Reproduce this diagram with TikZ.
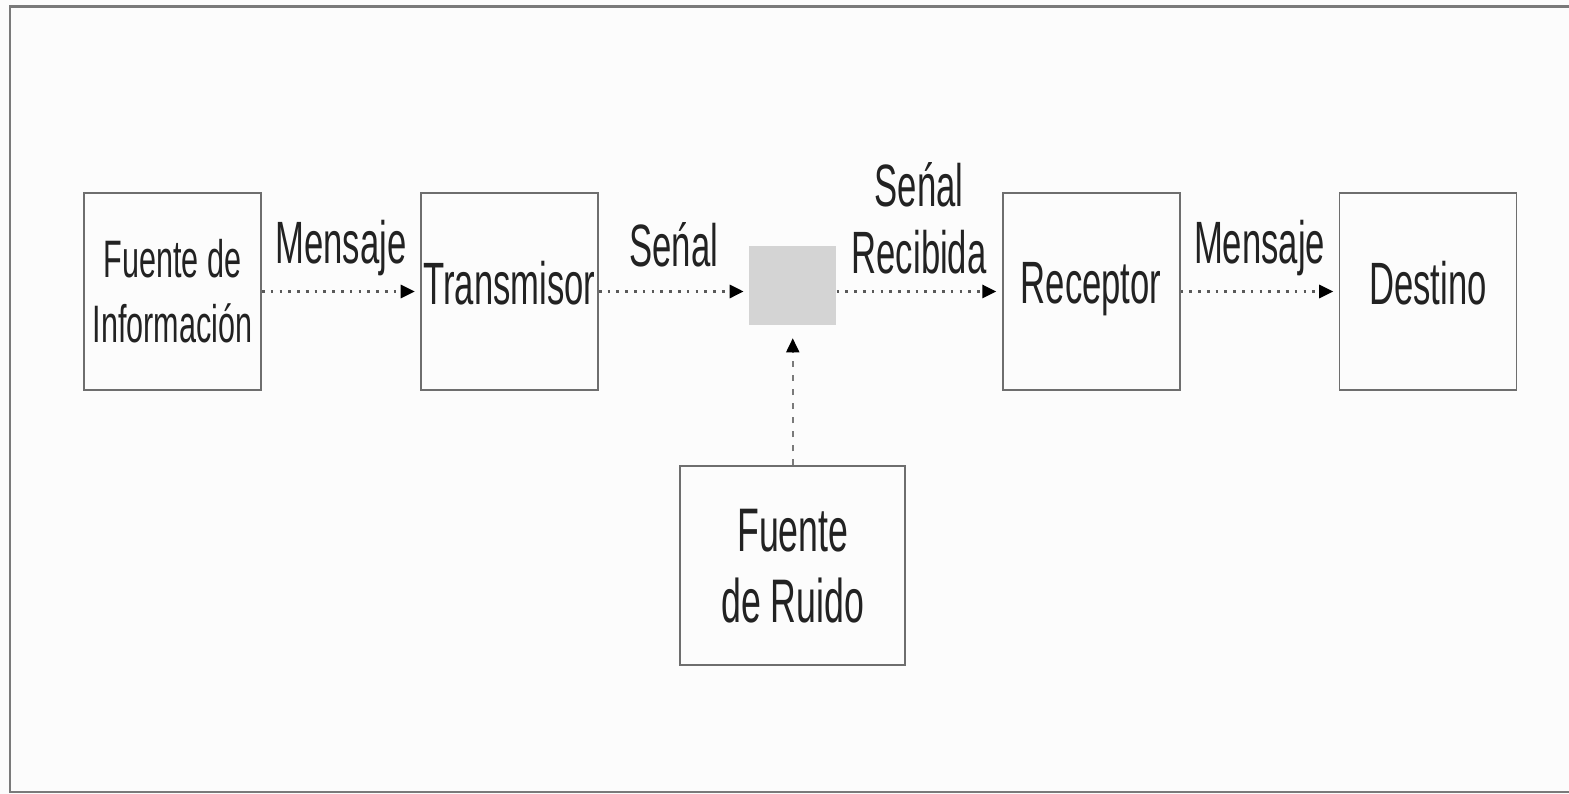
\documentclass[tikz,border=0pt]{standalone}
\usepackage{fontspec}
\setmainfont[FakeStretch=0.58]{Liberation Sans}
\usetikzlibrary{
  arrows.meta,
  positioning,
}
\definecolor{framegray}{HTML}{7A7A7A}
\definecolor{boxgray}{HTML}{6E6E6E}
\definecolor{chanfill}{HTML}{D4D4D4}
\definecolor{ink}{HTML}{222222}

\begin{document}
\begin{tikzpicture}[
    box/.style={draw=boxgray, line width=1.1pt, minimum width=3.54cm,
      minimum height=3.94cm, inner sep=0pt, align=center, text=ink,
      font=\fontsize{34}{39}\selectfont},
    onebox/.style={box, text depth=10pt},
    chan/.style={fill=chanfill, minimum width=1.74cm, minimum height=1.58cm,
      inner sep=0pt},
    lbl/.style={inner sep=0pt, align=center, text=ink,
      font=\fontsize{34}{38}\selectfont},
    tip/.style={-{Triangle[length=8pt,width=7.5pt,color=black]}},
    flow/.style={tip, draw=ink!75, line width=1.5pt, dash pattern=on 1.5pt off 3.5pt,
      shorten >=3pt},
    noise/.style={tip, draw=ink!60, line width=0.9pt, dash pattern=on 3.5pt off 4.5pt,
      shorten >=7.4pt},
  ]
    \useasboundingbox[fill=gray!2] (0,0) rectangle (31.38,15.88);
    \draw[framegray, line width=1.7pt] (31.38,15.74) -- (0.2,15.74) -- (0.2,0.04) -- (31.38,0.04);

    \node [box, font=\fontsize{30}{37}\selectfont] (FI) at (3.45,10.05) {Fuente de\\Información};
    \node [onebox, right=3.16cm of FI] (TR) {Transmisor};
    \node [chan, right=3.0cm of TR, yshift=0.12cm] (CH) {};
    \node [onebox, right=3.30cm of CH, yshift=-0.12cm] (RE) {Receptor};
    \node [onebox, right=3.16cm of RE] (DE) {Destino};
    \node [box, below=2.8cm of CH, minimum width=4.5cm, minimum height=3.98cm,
      font=\fontsize{35}{40.5}\selectfont] (RU) {Fuente\\de Ruido};

    \draw [flow] (FI) -- node [lbl, above=8pt] (M1) {Mensaje} (TR);
    \draw [flow] (TR.east) -- node [lbl, above=13pt] (S1) {Seńal} (TR.east -| CH.west);
    \draw [flow] (CH.east |- RE.west) -- node [lbl, above=9pt] (S2) {Seńal\\Recibida} (RE);
    \draw [flow] (RE) -- node [lbl, above=8pt] (M2) {Mensaje} (DE);
    \draw [noise] (RU) -- (CH);
  \end{tikzpicture}
\end{document}
